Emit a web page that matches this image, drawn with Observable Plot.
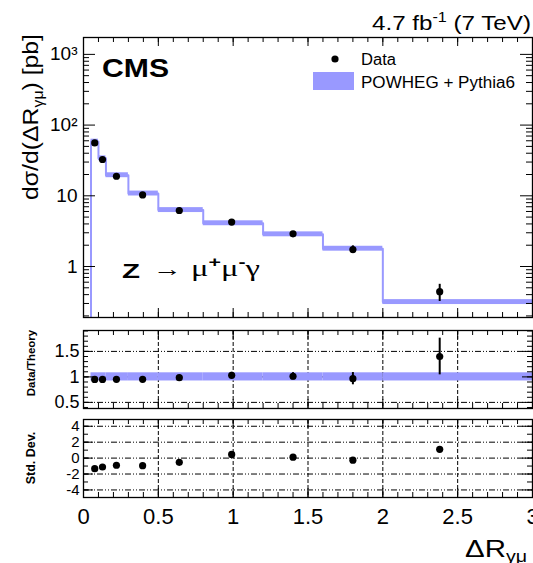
<!DOCTYPE html>
<html><head><meta charset="utf-8">
<script src="https://cdn.jsdelivr.net/npm/d3@7"></script>
<script src="https://cdn.jsdelivr.net/npm/@observablehq/plot@0.6"></script>
<style>
body{margin:0;background:#fff;}
#c{position:relative;width:533px;height:563px;overflow:hidden;background:#fff;font-family:"Liberation Sans",Arial,sans-serif;color:#000;}
#c svg{position:absolute;left:0;}
</style></head><body><div id="c"></div>
<script>
// ---- data ----
const binLo   = [0.05, 0.10, 0.15, 0.30, 0.50, 0.80, 1.20, 1.60, 2.00];
const binHi   = [0.10, 0.15, 0.30, 0.50, 0.80, 1.20, 1.60, 2.00, 3.00];
const theory  = [58.5, 34.0, 19.6, 10.8, 6.30, 4.10, 2.86, 1.79, 0.315];
const theoryRelUnc = [0.08, 0.08, 0.08, 0.08, 0.08, 0.08, 0.08, 0.08, 0.08];
const dataX   = [0.075, 0.127, 0.22, 0.395, 0.64, 0.99, 1.40, 1.80, 2.38];
const dataY   = [56.0, 32.6, 18.9, 10.3, 6.2, 4.25, 2.9, 1.74, 0.44];
const dataErr = [1.2, 0.7, 0.4, 0.3, 0.19, 0.25, 0.2, 0.22, 0.12];
const ratio    = [0.95, 0.95, 0.953, 0.953, 0.985, 1.03, 1.013, 0.965, 1.40];
const ratioErr = [0.02, 0.02, 0.02, 0.03, 0.03, 0.06, 0.07, 0.12, 0.36];
const stdDev   = [-1.33, -1.12, -0.90, -0.95, -0.53, 0.46, 0.12, -0.26, 1.10];

const xTicks = [0, 0.5, 1, 1.5, 2, 2.5, 3];
const xTickLabels = ["0", "0.5", "1", "1.5", "2", "2.5", "3"];
const yTopTicks = [1, 10, 100, 1000];
const yTopTickLabels = ["1", "10", "10\u00B2", "10\u00B3"];
const yRatioTicks = [0.5, 1, 1.5];
const yRatioTickLabels = ["0.5", "1", "1.5"];
const yStdTicks = [-4, -2, 0, 2, 4];
const yStdTickLabels = ["-4", "-2", "0", "2", "4"];

const bandColor = "#9999ff";
const yTopDomain = [0.19, 1733];
const yRatioDomain = [0.38, 1.91];
const yStdDomain = [-4.95, 4.85];

// ---- derived tables ----
const bins = binLo.map((lo, i) => ({lo, hi: binHi[i], t: theory[i], u: theoryRelUnc[i]}));
const pts = dataX.map((x, i) => ({x, y: dataY[i], e: dataErr[i], r: ratio[i], re: ratioErr[i], s: stdDev[i]}));
const stepPts = bins.map(b => ({x: b.lo, y: b.t})).concat([{x: bins[bins.length - 1].hi, y: bins[bins.length - 1].t}]);

const xMinor = d3.range(0, 31).map(i => i / 10);
const W = 533 - 83 - 1;

function logMinor(lo, hi) {
  const out = [];
  for (let k = -1; k <= 3; k++) for (let m = 2; m <= 9; m++) { const v = m * Math.pow(10, k); if (v >= lo && v <= hi) out.push(v); }
  return out;
}

function frameTicks(H, yMajor, yMinor, yMajLen, yMinLen) {
  return [
    Plot.tickX(xMinor, {x: d => d, insetTop: H - 5, stroke: "black"}),
    Plot.tickX(xMinor, {x: d => d, insetBottom: H - 5, stroke: "black"}),
    Plot.tickX(xTicks, {x: d => d, insetTop: H - 9, stroke: "black"}),
    Plot.tickX(xTicks, {x: d => d, insetBottom: H - 9, stroke: "black"}),
    Plot.tickY(yMinor, {y: d => d, insetRight: W - yMinLen, stroke: "black"}),
    Plot.tickY(yMinor, {y: d => d, insetLeft: W - yMinLen, stroke: "black"}),
    Plot.tickY(yMajor, {y: d => d, insetRight: W - yMajLen, stroke: "black"}),
    Plot.tickY(yMajor, {y: d => d, insetLeft: W - yMajLen, stroke: "black"}),
    Plot.frame({stroke: "black", strokeWidth: 1.3})
  ];
}

const c = document.getElementById("c");
function place(svg, top) { svg.style.top = top + "px"; c.appendChild(svg); }
const font = {fontFamily: "Liberation Sans, Arial, sans-serif", background: "transparent"};

// ---- top panel ----
const H1 = 280;
place(Plot.plot({
  width: 533, height: 7 + H1 + 5, marginTop: 7, marginBottom: 5, marginLeft: 83, marginRight: 1,
  style: font,
  x: {domain: [0, 3]},
  y: {type: "log", domain: yTopDomain},
  marks: [
    Plot.rect(bins, {x1: "lo", x2: "hi", y1: d => d.t * (1 - d.u), y2: d => d.t * (1 + d.u), fill: bandColor}),
    Plot.line(stepPts, {x: "x", y: "y", curve: "step-after", stroke: bandColor, strokeWidth: 2}),
    Plot.ruleX([bins[0]], {x: "lo", y1: yTopDomain[0], y2: "t", stroke: bandColor, strokeWidth: 2}),
    Plot.ruleX(pts, {x: "x", y1: d => d.y - d.e, y2: d => d.y + d.e, stroke: "black", strokeWidth: 2}),
    Plot.dot(pts, {x: "x", y: "y", r: 3.6, fill: "black"}),
    ...frameTicks(H1, yTopTicks, logMinor(yTopDomain[0], yTopDomain[1]), 12, 6),
    Plot.axisY({ticks: yTopTicks, tickFormat: d => yTopTickLabels[yTopTicks.indexOf(d)], tickSize: 0, tickPadding: 6, fontSize: 19, label: null}),
    Plot.axisX({ticks: [], tickSize: 0, label: null})
  ]
}), 30);

// ---- ratio panel ----
const H2 = 78;
place(Plot.plot({
  width: 533, height: 8 + H2 + 6, marginTop: 8, marginBottom: 6, marginLeft: 83, marginRight: 1,
  style: font,
  x: {domain: [0, 3]},
  y: {domain: yRatioDomain},
  marks: [
    Plot.ruleY(yRatioTicks, {y: d => d, stroke: "black", strokeWidth: 1, strokeDasharray: "6,2,1,2,1,2"}),
    Plot.ruleX(xTicks.slice(1, -1), {x: d => d, stroke: "black", strokeWidth: 1, strokeDasharray: "4,2"}),
    Plot.rect(bins, {x1: "lo", x2: "hi", y1: d => 1 - d.u, y2: d => 1 + d.u, fill: bandColor}),
    Plot.ruleX(pts, {x: "x", y1: d => d.r - d.re, y2: d => d.r + d.re, stroke: "black", strokeWidth: 2}),
    Plot.dot(pts, {x: "x", y: "r", r: 3.6, fill: "black"}),
    ...frameTicks(H2, yRatioTicks, d3.range(4, 20).map(i => i / 10), 10, 5),
    Plot.axisY({ticks: yRatioTicks, tickFormat: d => yRatioTickLabels[yRatioTicks.indexOf(d)], tickSize: 0, tickPadding: 4, fontSize: 18, label: null}),
    Plot.axisX({ticks: [], tickSize: 0, label: null})
  ]
}), 322);

// ---- std dev panel ----
const H3 = 78;
place(Plot.plot({
  width: 533, height: 7 + H3 + 66, marginTop: 7, marginBottom: 66, marginLeft: 83, marginRight: 1,
  style: font,
  x: {domain: [0, 3]},
  y: {domain: yStdDomain},
  marks: [
    Plot.ruleY(yStdTicks, {y: d => d, stroke: "black", strokeWidth: 1, strokeDasharray: "6,2,1,2,1,2"}),
    Plot.ruleX(xTicks.slice(1, -1), {x: d => d, stroke: "black", strokeWidth: 1, strokeDasharray: "4,2"}),
    Plot.dot(pts, {x: "x", y: "s", r: 3.6, fill: "black"}),
    ...frameTicks(H3, yStdTicks, d3.range(-4, 5), 10, 5),
    Plot.axisY({ticks: yStdTicks, tickFormat: d => yStdTickLabels[yStdTicks.indexOf(d)], tickSize: 0, tickPadding: 4, fontSize: 15, label: null}),
    Plot.axisX({ticks: xTicks, tickFormat: d => xTickLabels[xTicks.indexOf(d)], tickSize: 0, tickPadding: 11, fontSize: 22, label: null})
  ]
}), 412);

// ---- annotations (text, legend) ----
const ann = d3.select(c).append("svg").attr("width", 533).attr("height", 563)
  .style("top", "0px").style("pointer-events", "none")
  .attr("font-family", "Liberation Sans, Arial, sans-serif");

const t1 = ann.append("text").attr("x", 372).attr("y", 30).attr("font-size", 21)
  .attr("textLength", 159).attr("lengthAdjust", "spacingAndGlyphs");
t1.append("tspan").text("4.7 fb");
t1.append("tspan").attr("font-size", 14).attr("dy", -8).text("-1");
t1.append("tspan").attr("dy", 8).text(" (7 TeV)");

ann.append("text").attr("x", 102).attr("y", 76.5).attr("font-size", 26).attr("font-weight", "bold")
  .attr("textLength", 67).attr("lengthAdjust", "spacingAndGlyphs").text("CMS");

ann.append("circle").attr("cx", 335).attr("cy", 59).attr("r", 3.6).attr("fill", "black");
ann.append("text").attr("x", 361).attr("y", 64.5).attr("font-size", 16)
  .attr("textLength", 35).attr("lengthAdjust", "spacingAndGlyphs").text("Data");
ann.append("rect").attr("x", 313).attr("y", 72).attr("width", 41).attr("height", 18).attr("fill", bandColor);
ann.append("text").attr("x", 361).attr("y", 88).attr("font-size", 16)
  .attr("textLength", 154).attr("lengthAdjust", "spacingAndGlyphs").text("POWHEG + Pythia6");

ann.append("text").attr("x", 122).attr("y", 278).attr("font-size", 21).attr("font-weight", "bold")
  .attr("textLength", 18).attr("lengthAdjust", "spacingAndGlyphs").text("Z");
ann.append("text").attr("x", 153).attr("y", 276).attr("font-size", 22).attr("font-family", "Liberation Serif, serif")
  .attr("textLength", 29).attr("lengthAdjust", "spacingAndGlyphs").text("\u2192");
const mu = ann.append("text").attr("x", 191).attr("y", 276).attr("font-size", 23).attr("font-family", "Liberation Serif, serif")
  .attr("textLength", 69).attr("lengthAdjust", "spacingAndGlyphs");
mu.append("tspan").text("\u03BC");
mu.append("tspan").attr("font-size", 15).attr("font-family", "Liberation Sans, sans-serif").attr("font-weight", "bold").attr("dy", -9).text("+");
mu.append("tspan").attr("dy", 9).text("\u03BC");
mu.append("tspan").attr("font-size", 15).attr("font-family", "Liberation Sans, sans-serif").attr("font-weight", "bold").attr("dy", -9).text("-");
mu.append("tspan").attr("dy", 9).text("\u03B3");

const xl = ann.append("text").attr("x", 465).attr("y", 557).attr("font-size", 24)
  .attr("textLength", 62).attr("lengthAdjust", "spacingAndGlyphs");
xl.append("tspan").text("\u0394R");
xl.append("tspan").attr("font-size", 16).attr("dy", 5).text("\u03B3\u03BC");

const yl = ann.append("text").attr("transform", "translate(38,34) rotate(-90)").attr("text-anchor", "end").attr("font-size", 22)
  .attr("textLength", 166).attr("lengthAdjust", "spacingAndGlyphs");
yl.append("tspan").text("d\u03C3/d(\u0394R");
yl.append("tspan").attr("font-size", 14).attr("dy", 5).text("\u03B3\u03BC");
yl.append("tspan").attr("dy", -5).text(") [pb]");

ann.append("text").attr("transform", "translate(34.5,363) rotate(-90)").attr("text-anchor", "middle")
  .attr("font-size", 11.5).attr("font-weight", "bold").text("Data/Theory");
ann.append("text").attr("transform", "translate(34.5,458) rotate(-90)").attr("text-anchor", "middle")
  .attr("font-size", 12.5).attr("font-weight", "bold").text("Std. Dev.");
</script></body></html>
